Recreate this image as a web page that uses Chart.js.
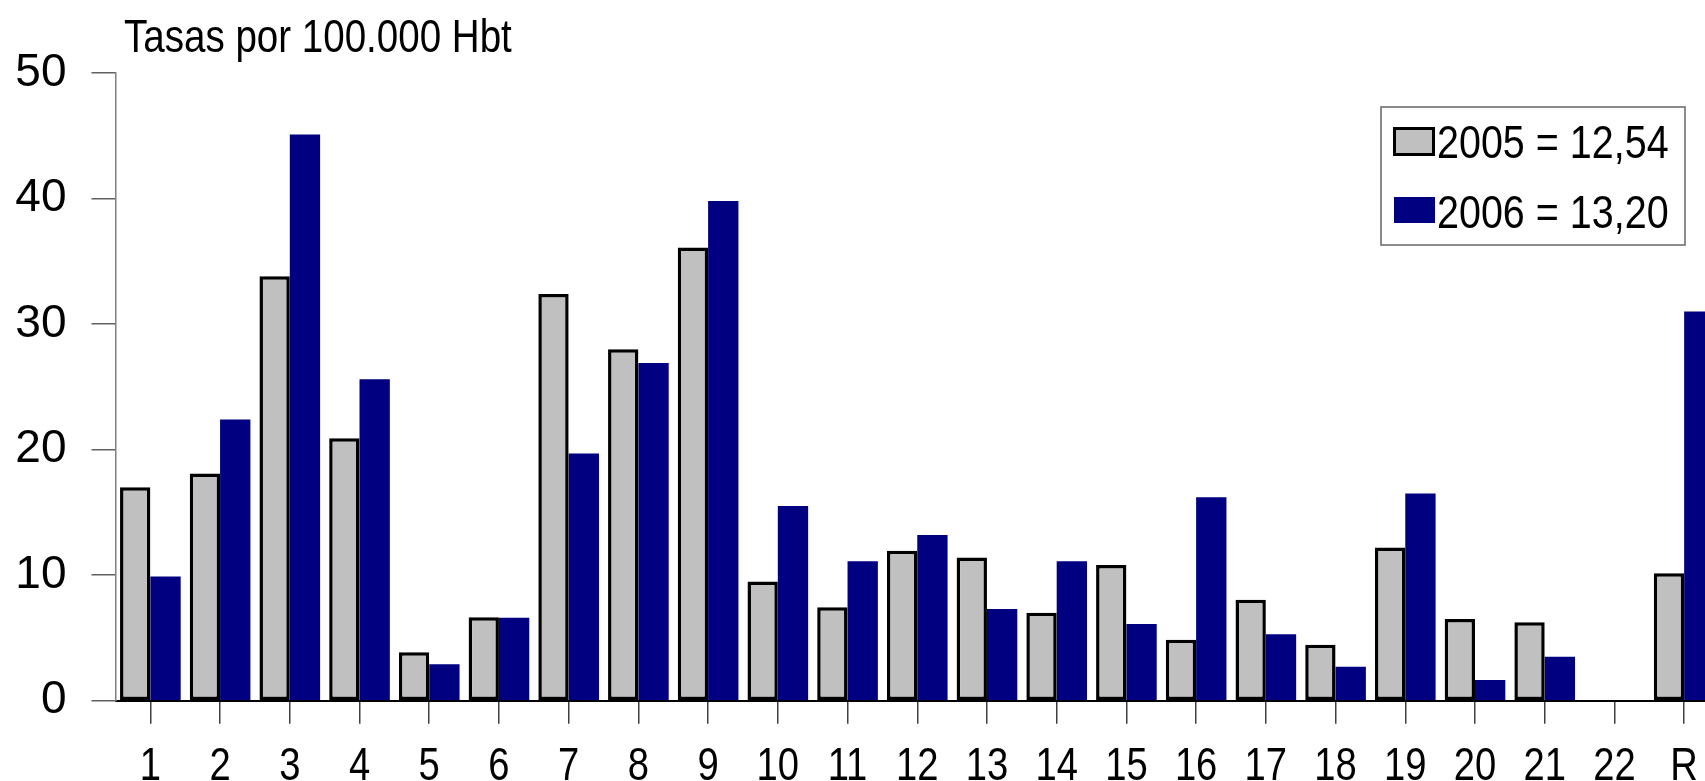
<!DOCTYPE html>
<html>
<head>
<meta charset="utf-8">
<script src="https://cdn.jsdelivr.net/npm/chart.js@4.4.1/dist/chart.umd.min.js"></script>
<style>
html,body{margin:0;padding:0;background:#fff;overflow:hidden}
#wrap{position:relative;width:1705px;height:781px;overflow:hidden}
#chart{position:absolute;left:0;top:0}
</style>
</head>
<body>
<div id="wrap"><canvas id="chart" width="1719" height="781"></canvas></div>
<script>
var categories=["1","2","3","4","5","6","7","8","9","10","11","12","13","14","15","16","17","18","19","20","21","22","R"];
var rates2005=[17.0,18.1,33.8,20.9,3.85,6.65,32.4,28.0,36.1,9.5,7.45,11.95,11.4,7.0,10.8,4.85,8.05,4.45,12.2,6.5,6.25,null,10.15];
var rates2006=[9.9,22.4,45.1,25.6,2.9,6.6,19.7,26.9,39.8,15.5,11.1,13.2,7.3,11.1,6.1,16.2,5.3,2.7,16.5,1.65,3.5,null,31.0];
var seriesLabels=["2005 = 12,54","2006 = 13,20"];
var yMin=0,yMax=50,yStep=10;
var axisTitle="Tasas por 100.000 Hbt";

var regular="'Liberation Sans',Arial,sans-serif";

// condensed text: regular Arial-metric font squeezed horizontally
function narrowText(ctx,txt,x,y,sx,align){
  ctx.save();
  ctx.translate(x,y);
  ctx.scale(sx,1);
  ctx.textAlign=align;
  ctx.fillText(txt,0,0);
  ctx.restore();
}

// title, category labels and boxed legend, drawn on top of the chart
var overlay={
  id:"overlay",
  afterDraw:function(chart){
    var ctx=chart.ctx,ds=chart.data.datasets,xs=chart.scales.x;
    ctx.save();
    ctx.fillStyle="#000";
    ctx.textBaseline="alphabetic";
    ctx.font="47px "+regular;
    narrowText(ctx,axisTitle,124,52,0.82,"left");

    ctx.font="46px "+regular;
    chart.data.labels.forEach(function(lab,i){
      narrowText(ctx,lab,xs.getPixelForTick(i),780,0.83,"center");
    });

    ctx.fillStyle="#fff";
    ctx.fillRect(1381,107,304,138);
    ctx.strokeStyle="#666";
    ctx.lineWidth=1.5;
    ctx.strokeRect(1381,107,304,138);

    // 2005 swatch
    ctx.fillStyle=ds[0].backgroundColor;
    ctx.fillRect(1393,127,42,29);
    ctx.strokeStyle=ds[0].borderColor;
    ctx.lineWidth=3;
    ctx.strokeRect(1394.5,128.5,39,26);
    // 2006 swatch
    ctx.fillStyle=ds[1].backgroundColor;
    ctx.fillRect(1394,197,41,26);

    ctx.fillStyle="#000";
    ctx.font="47px "+regular;
    narrowText(ctx,ds[0].label,1437,158,0.84,"left");
    narrowText(ctx,ds[1].label,1437,228,0.84,"left");
    ctx.restore();
  }
};

new Chart(document.getElementById("chart").getContext("2d"),{
  type:"bar",
  data:{
    labels:categories,
    datasets:[
      {label:seriesLabels[0],data:rates2005,backgroundColor:"#C0C0C0",borderColor:"#000",borderWidth:3.5,borderSkipped:false,categoryPercentage:0.87,barPercentage:1.0},
      {label:seriesLabels[1],data:rates2006,backgroundColor:"#000080",borderColor:"#000080",borderWidth:0,categoryPercentage:0.87,barPercentage:1.0}
    ]
  },
  options:{
    responsive:false,
    animation:false,
    layout:{padding:{top:73,left:0,right:0,bottom:0}},
    plugins:{legend:{display:false},tooltip:{enabled:false},title:{display:false}},
    scales:{
      x:{
        offset:true,
        grid:{display:true,drawOnChartArea:false,offset:false,tickLength:23,tickColor:"#404040",lineWidth:1.5},
        border:{display:true,color:"#000",width:2},
        ticks:{display:false,autoSkip:false},
        afterFit:function(s){s.height=80.3}
      },
      y:{
        min:yMin,max:yMax,
        grid:{display:true,drawOnChartArea:false,tickLength:24,tickColor:"#606060",lineWidth:1.5},
        border:{display:true,color:"#808080",width:1.5},
        ticks:{stepSize:yStep,color:"#000",padding:25,font:{family:regular,size:46}},
        afterFit:function(s){s.width=115.5}
      }
    }
  },
  plugins:[overlay]
});
</script>
</body>
</html>
